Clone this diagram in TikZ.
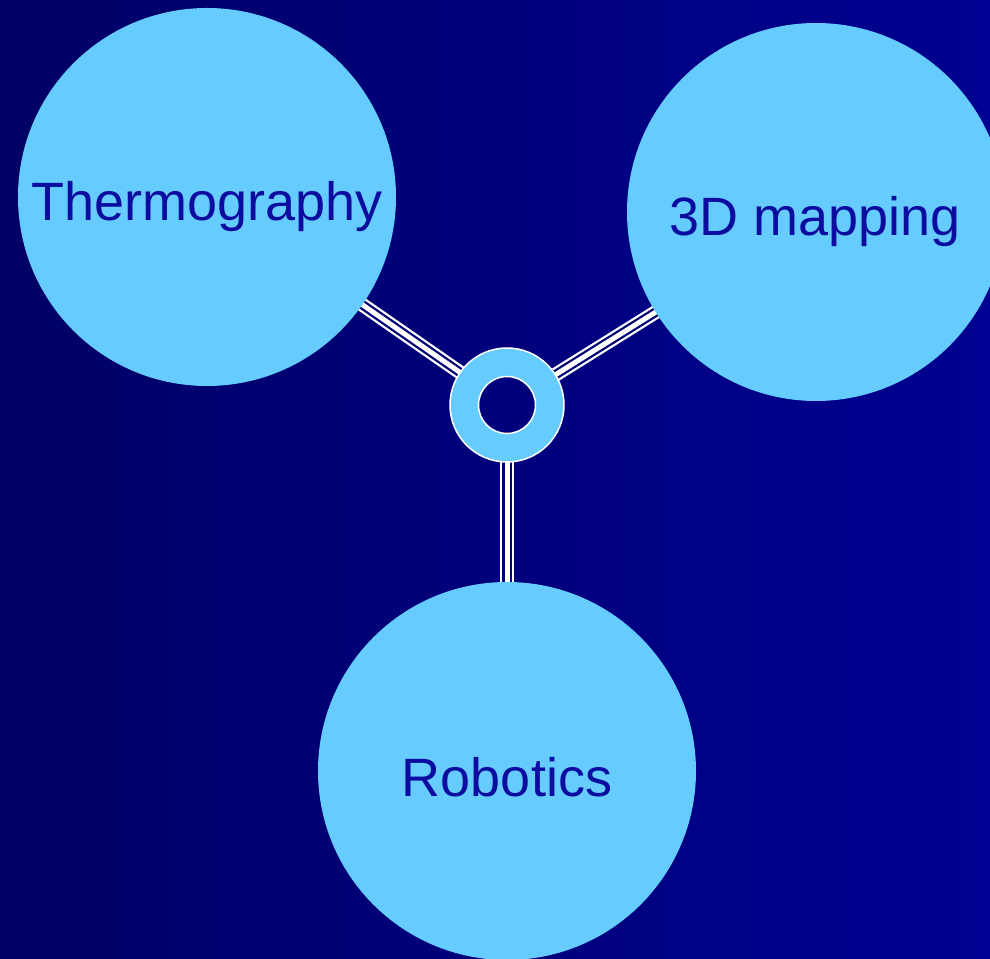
\documentclass[tikz,border=0pt]{standalone}
\usepackage{fontspec}
\setmainfont{Liberation Sans}
\usetikzlibrary{positioning}

\definecolor{bgleft}{RGB}{0,0,102}
\definecolor{bgright}{RGB}{0,0,146}
\definecolor{bgmid}{RGB}{0,0,118}
\definecolor{topicfill}{RGB}{102,204,255}
\definecolor{topictext}{RGB}{12,12,160}

\begin{document}
\begin{tikzpicture}[
    x=1pt, y=1pt,
    topic/.style={circle, fill=topicfill, minimum size=378pt, inner sep=0pt},
    topiclabel/.style={anchor=base, inner sep=0pt,
        font=\fontsize{54}{60}\selectfont, text=topictext},
    hub/.style={circle, minimum size=114pt, inner sep=0pt},
    link/.style={white, line width=14pt},
    linkgap/.style={bgmid, line width=9.5pt},
    linkcore/.style={white, line width=5pt}
]

% background
\useasboundingbox (0,0) rectangle (990,958);
\clip (0,0) rectangle (990,958);
\shade[left color=bgleft, right color=bgright] (0,0) rectangle (990,958);

% hub and topic positions
\coordinate (hubc) at (507,553);
\node[hub] (hub) at (hubc) {};
\coordinate (thermoc) at (207,761);
\coordinate (mapc) at (816,746);
\coordinate (roboc) at (507,187);

% triple-line links, drawn under the circles
\foreach \t in {thermoc, mapc, roboc} {
    \draw[link] (hub) -- (\t);
    \draw[linkgap] (hub) -- (\t);
    \draw[linkcore] (hub) -- (\t);
}

% topics
\node[topic] (thermo) at (thermoc) {};
\node[topic] (map) at (mapc) {};
\node[topic] (robo) at (roboc) {};
\node[topiclabel] (thermotext) at (207,737) {Thermography};
\node[topiclabel] (maptext) at (815,722) {3D mapping};
\node[topiclabel] (robotext) at (507,161) {Robotics};

% hub ring
\fill[topicfill, even odd rule] (hubc) circle (57) (hubc) circle (28.5);
\draw[white, line width=1.5pt] (hubc) circle (57);
\draw[white, line width=1.5pt] (hubc) circle (28.5);

\end{tikzpicture}
\end{document}
